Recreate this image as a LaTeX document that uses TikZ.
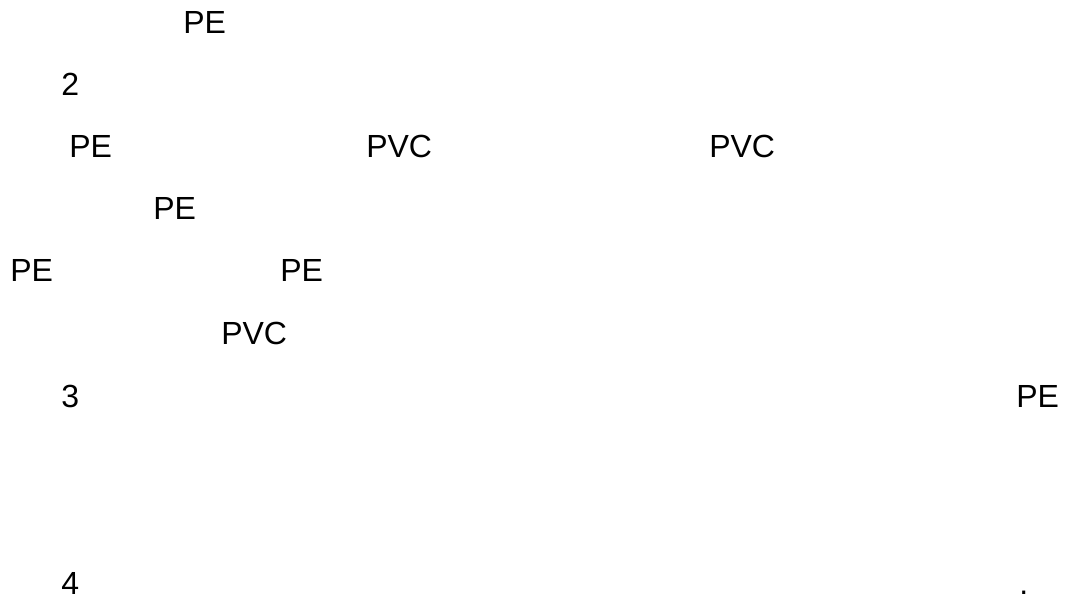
\documentclass[tikz,border=0pt]{standalone}
\usepackage{fontspec}
\setmainfont{Liberation Sans}
\usetikzlibrary{positioning}

\begin{document}
\begin{tikzpicture}[x=0.75pt,y=-0.75pt,
        lbl/.style={anchor=base west,inner sep=0pt,font=\fontsize{24}{28}\selectfont}]
        \useasboundingbox (0,0) rectangle (1091,604);
        \path
        % 1st row
        (183,33)  node[lbl] (pe1) {PE}
        % 2nd row
        (61,95)   node[lbl] (n2) {2}
        % 3rd row
        (69,157)  node[lbl] (pe2) {PE}
        (366,157) node[lbl] (pvc1) {PVC}
        (709,157) node[lbl] (pvc2) {PVC}
        % 4th row
        (153,219) node[lbl] (pe3) {PE}
        % 5th row
        (10,281)  node[lbl] (pe4) {PE}
        (280,281) node[lbl] (pe5) {PE}
        % 6th row
        (221,344) node[lbl] (pvc3) {PVC}
        % 7th row
        (61,407)  node[lbl] (n3) {3}
        (1016,407) node[lbl] (pe6) {PE}
        % last row
        (61,594)  node[lbl] (n4) {4}
        (1019,594) node[lbl] (dot) {.};
\end{tikzpicture}
\end{document}
